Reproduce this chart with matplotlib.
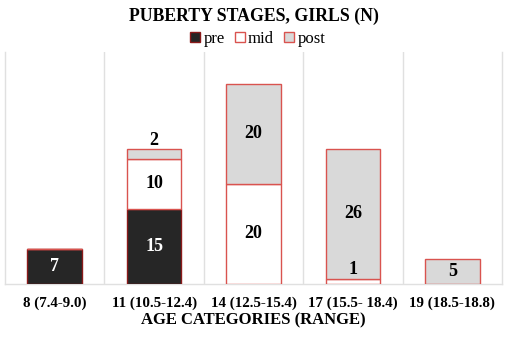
import matplotlib
matplotlib.use("Agg")
import matplotlib.pyplot as plt
from matplotlib.patches import Patch

categories = ["8 (7.4-9.0)", "11 (10.5-12.4)", "14 (12.5-15.4)", "17 (15.5- 18.4)", "19 (18.5-18.8)"]
pre = [7, 15, 0, 0, 0]
mid = [0, 10, 20, 1, 0]
post = [0, 2, 20, 26, 5]

serif = ["Liberation Serif", "DejaVu Serif"]
plt.rcParams['font.family'] = serif

fig = plt.figure(figsize=(5.10, 3.37), dpi=100)
ax = fig.add_axes([5/510, 53/337, 497/510, 232/337])

x = list(range(len(categories)))
w = 0.55
edge_pre = "#8b1a1a"
edge = "#d9534f"
ax.bar(x, pre, w, color="#262626", edgecolor=edge_pre, linewidth=1.0, zorder=3)
ax.bar(x, mid, w, bottom=pre, color="white", edgecolor=edge, linewidth=1.0, zorder=3)
bot2 = [a + b for a, b in zip(pre, mid)]
ax.bar(x, post, w, bottom=bot2, color="#d9d9d9", edgecolor=edge, linewidth=1.0, zorder=3)

fs = 13
for i in x:
    if pre[i] > 0:
        ax.text(i, pre[i] / 2, str(pre[i]), ha="center", va="center", color="white",
                fontsize=fs, fontweight="bold", zorder=4)
    if mid[i] > 0:
        y = bot2[i] - mid[i] / 2 if mid[i] >= 3 else pre[i] + mid[i] + 1.9
        ax.text(i, y, str(mid[i]), ha="center", va="center", color="black",
                fontsize=fs, fontweight="bold", zorder=4)
    if post[i] > 0:
        y = bot2[i] + post[i] / 2 if post[i] >= 3 else bot2[i] + post[i] + 1.7
        ax.text(i, y, str(post[i]), ha="center", va="center", color="black",
                fontsize=fs, fontweight="bold", zorder=4)

ax.set_xlim(-0.5, 4.5)
ax.set_ylim(0, 46.4)
ax.set_yticks([])
ax.set_xticks(x)
ax.set_xticklabels(categories, fontsize=10.8, fontweight="bold")
ax.tick_params(axis="x", length=0, pad=9)
for b in [0.5, 1.5, 2.5, 3.5]:
    ax.axvline(b, color="#e0e0e0", linewidth=1.0, zorder=1)
for s in ["top"]:
    ax.spines[s].set_visible(False)
for s in ["left", "right", "bottom"]:
    ax.spines[s].set_color("#e0e0e0")
    ax.spines[s].set_linewidth(1.0)

ax.set_xlabel("AGE CATEGORIES (RANGE)", fontsize=12, fontweight="bold", labelpad=2)

fig.text(0.497, 0.951, "PUBERTY STAGES, GIRLS (N)", ha="center", va="center",
         fontsize=12.8, fontweight="bold")

handles = [Patch(facecolor="#262626", edgecolor=edge_pre, label="pre"),
           Patch(facecolor="white", edgecolor=edge, label="mid"),
           Patch(facecolor="#d9d9d9", edgecolor=edge, label="post")]
fig.legend(handles=handles, loc="center", bbox_to_anchor=(0.505, 0.885), ncol=3,
           frameon=False, fontsize=12, handlelength=0.6, handleheight=0.6,
           handletextpad=0.2, columnspacing=0.6, borderpad=0)

fig.savefig("out.png", dpi=100)
